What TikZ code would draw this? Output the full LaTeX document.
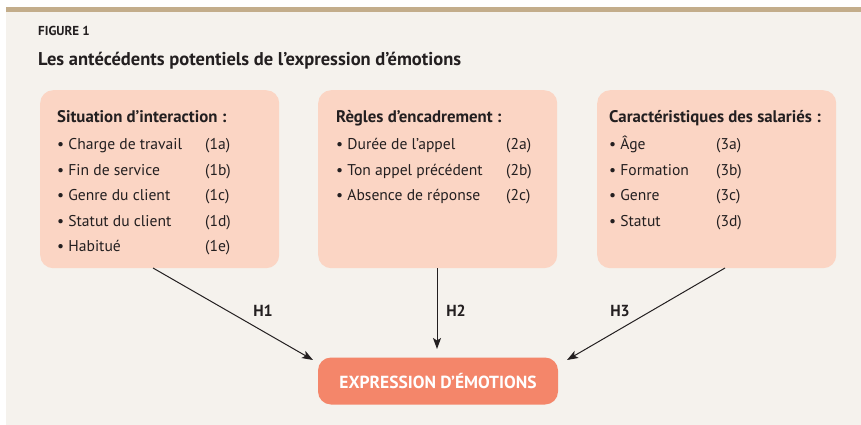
\documentclass[tikz,border=0pt]{standalone}
\usepackage{fontspec}
\setmainfont{PT Sans}
\usetikzlibrary{arrows.meta}
\definecolor{bgc}{HTML}{F5F2ED}
\definecolor{barc}{HTML}{C3AD8B}
\definecolor{boxc}{HTML}{FBD5C4}
\definecolor{outc}{HTML}{F4866A}
\definecolor{txtc}{HTML}{231F20}
\tikzset{
  panelbox/.style={fill=boxc, rounded corners=13pt, minimum width=239pt, minimum height=178pt, anchor=north west, inner sep=0pt},
  outbox/.style={fill=outc, rounded corners=13pt, minimum width=240pt, minimum height=47pt, inner sep=0pt, text=white, font=\fontsize{17.5}{20}\selectfont\bfseries},
  hdr/.style={anchor=base west, inner sep=0pt, text=txtc, font=\fontsize{16.8}{19}\selectfont\bfseries},
  itm/.style={anchor=base west, inner sep=0pt, text=txtc, font=\fontsize{15.6}{18}\selectfont},
  hlab/.style={anchor=center, inner sep=0pt, text=txtc, font=\fontsize{16}{18}\selectfont\bfseries},
  arr/.style={draw=txtc, line width=1pt, -{Stealth[length=11pt,width=8pt,inset=2.5pt]}}
}
\newcommand{\bul}{\textbullet\ }
\begin{document}
\begin{tikzpicture}[x=1pt,y=-1pt]
\useasboundingbox (0,0) rectangle (861,425);
\fill[white] (0,0) rectangle (861,425);
\fill[bgc] (6,7) rectangle (861,425);
\fill[barc] (6,7) rectangle (861,12);

\node[anchor=base west, inner sep=0pt, text=txtc, font=\fontsize{13}{15}\selectfont\bfseries] (fig) at (38,36) {FIGURE 1};
\node[anchor=base west, inner sep=0pt, text=txtc, font=\fontsize{18.5}{21}\selectfont\bfseries] (title) at (38,66) {Les antécédents potentiels de l’expression d’émotions};

\node[panelbox] (b1) at (40,90) {};
\node[panelbox] (b2) at (318,90) {};
\node[panelbox] (b3) at (597,90) {};

% box 1
\node[hdr] (h1) at (57,122) {Situation d’interaction :};
\node[itm] (i1a) at (57,149) {\bul Charge de travail};
\node[itm] (i1b) at (57,175) {\bul Fin de service};
\node[itm] (i1c) at (57,200) {\bul Genre du client};
\node[itm] (i1d) at (57,226) {\bul Statut du client};
\node[itm] (i1e) at (57,251) {\bul Habitué};
\node[itm] (l1a) at (205,149) {(1a)};
\node[itm] (l1b) at (205,175) {(1b)};
\node[itm] (l1c) at (205,200) {(1c)};
\node[itm] (l1d) at (205,226) {(1d)};
\node[itm] (l1e) at (205,251) {(1e)};

% box 2
\node[hdr] (h2) at (336,122) {Règles d’encadrement :};
\node[itm] (i2a) at (336,149) {\bul Durée de l’appel};
\node[itm] (i2b) at (336,175) {\bul Ton appel précédent};
\node[itm] (i2c) at (336,200) {\bul Absence de réponse};
\node[itm] (l2a) at (506,149) {(2a)};
\node[itm] (l2b) at (506,175) {(2b)};
\node[itm] (l2c) at (506,200) {(2c)};

% box 3
\node[hdr] (h3) at (609,122) {Caractéristiques des salariés :};
\node[itm] (i3a) at (609,149) {\bul Âge};
\node[itm] (i3b) at (609,175) {\bul Formation};
\node[itm] (i3c) at (609,200) {\bul Genre};
\node[itm] (i3d) at (609,226) {\bul Statut};
\node[itm] (l3a) at (716,149) {(3a)};
\node[itm] (l3b) at (716,175) {(3b)};
\node[itm] (l3c) at (716,200) {(3c)};
\node[itm] (l3d) at (716,226) {(3d)};

% output
\node[outbox] (out) at (438,381) {EXPRESSION D’ÉMOTIONS};

% arrows
\coordinate (s1) at (153,268);
\coordinate (t1) at (313,360);
\coordinate (s3) at (725,268);
\coordinate (t3) at (567,360);
\coordinate (s2) at (437,268);
\coordinate (t2) at (437,349);
\draw[arr] (s1) -- (t1);
\draw[arr] (s2) -- (t2);
\draw[arr] (s3) -- (t3);

\node[hlab] (H1) at (263,311) {H1};
\node[hlab] (H2) at (456,311) {H2};
\node[hlab] (H3) at (620,311) {H3};
\end{tikzpicture}
\end{document}
